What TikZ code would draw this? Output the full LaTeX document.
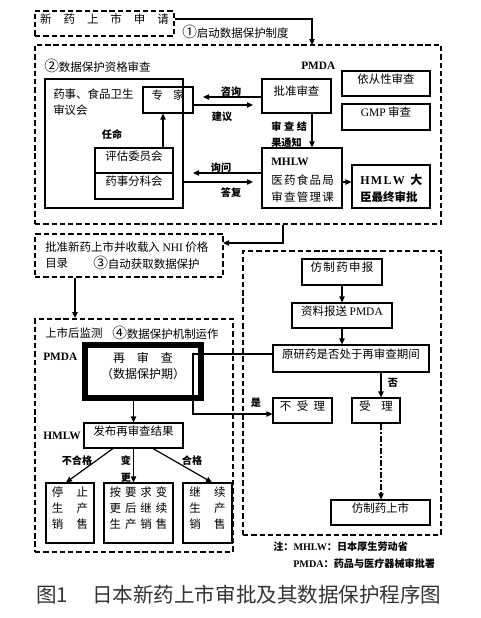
\documentclass[tikz,border=0pt]{standalone}
\usepackage{fontspec}
\setmainfont{Liberation Serif}
\newfontfamily\cjk{Noto Sans CJK SC}
\usetikzlibrary{arrows.meta,fit}
\newcommand\kgap[1]{\hspace*{#1pt}}
\newcommand\circd[1]{{\fontsize{11}{12}\selectfont #1}}
\begin{document}
\begin{tikzpicture}[x=0.75pt,y=-0.75pt,
  box/.style={draw,line width=0.8pt,inner sep=0pt,font=\cjk\fontsize{8.6}{12}\selectfont,align=center},
  dbox/.style={draw,line width=1.4pt,dash pattern=on 4pt off 2.2pt,inner sep=0pt,font=\cjk\fontsize{8.6}{12}\selectfont},
  arr/.style={-{Triangle[length=4.5pt,width=4pt]},line width=0.9pt},
  lbl/.style={inner sep=0pt,font=\cjk\fontsize{8.6}{12}\selectfont,anchor=west},
  sml/.style={inner sep=0pt,font=\cjk\bfseries\fontsize{7.6}{10}\selectfont},
  ttl/.style={inner sep=0pt,font=\rmfamily\bfseries\fontsize{8.5}{10}\selectfont,anchor=west},
  thick box/.style={draw,line width=4.5pt,inner sep=0pt,font=\cjk\fontsize{9}{12}\selectfont,align=center},
]
\useasboundingbox (0,0) rectangle (481,618);

% step 1
\node[dbox,fit={(35,11)(174,36)}] (n1) {新\kgap{9}药\kgap{9}上\kgap{9}市\kgap{9}申\kgap{9}请};
\node[dbox,fit={(35,45)(441,224)}] (b2) {};
\coordinate (c1) at (312,45);
\draw[arr] ([yshift=3.4pt]n1.east) -| (c1);
\node[lbl] (s1) at (182,32) {\circd{①}启动数据保护制度};
\node[lbl] (s2) at (44,66) {\circd{②}数据保护资格审查};
\node[ttl] (pmda1) at (301,66) {PMDA};

% left committee
\node[box,fit={(45,79)(183,208)}] (yw) {};
\node[lbl] (yw1) at (53,94) {药事、食品卫生};
\node[lbl] (yw2) at (53,110) {审议会};
\node[box,fit={(143,87)(193,113)}] (zj) {专\kgap{7.5}家};
\node[box,fit={(95,148)(173,173)}] (pg) {评估委员会};
\node[box,fit={(95,173)(173,199)}] (fk) {药事分科会};
\draw[arr] ([xshift=21.75pt]pg.north) -- ([xshift=21.75pt]pg.north |- zj.south);
\node[sml] (rm) at (112,135) {任命};

% PMDA review
\node[box,fit={(262,79)(331,113)}] (pz) {批准审查};
\coordinate (zx) at (203,97);
\draw[arr] (pz.west |- zx) -- (zx);
\node[sml] (zxl) at (231,92) {咨询};
\coordinate (jy) at (253,105);
\draw[arr] (zj.east |- jy) -- (jy);
\node[sml] (jyl) at (222,117) {建议};
\node[box,fit={(342,71)(430,96)}] (yc) {依从性审查};
\node[box,fit={(342,104)(430,130)}] (gmp) {{\rmfamily GMP} 审查};

% MHLW
\node[box,fit={(262,148)(342,208)}] (mh) {};
\coordinate (tz) at (312,0);
\draw[arr] (pz.south -| tz) -- (mh.north -| tz);
\node[sml,anchor=west] (tz1) at (271,127) {审\kgap{2}查\kgap{2}结};
\node[sml,anchor=west] (tz2) at (271,143) {果通知};
\node[ttl] (mh1) at (271,162) {MHLW};
\node[lbl] (mh2) at (271,180) {医\kgap{1}药\kgap{1}食\kgap{1}品\kgap{1}局};
\node[lbl] (mh3) at (271,197) {审\kgap{1}查\kgap{1}管\kgap{1}理\kgap{1}课};
\coordinate (xw) at (193,173);
\draw[arr] (mh.west |- xw) -- (xw);
\node[sml] (xwl) at (221,168) {询问};
\coordinate (df) at (253,182);
\draw[arr] (yw.east |- df) -- (df);
\node[sml] (dfl) at (231,193) {答复};
\node[box,fit={(352,165)(430,208)}] (hm) {};
\draw[arr] (mh.east |- df) -- (hm.west |- df);
\node[ttl,font=\rmfamily\bfseries\fontsize{9}{10}\selectfont] (hm1) at (360,180) {H\kgap{1}M\kgap{1}L\kgap{1}W\kgap{4}{\cjk 大}};
\node[lbl,font=\cjk\bfseries\fontsize{8.6}{12}\selectfont] (hm2) at (360,197) {臣最终审批};

% step 3
\node[dbox,fit={(35,234)(223,277)}] (n3) {};
\coordinate (c2) at (283,224);
\coordinate (c3) at (223,243);
\draw[arr] (b2.south -| c2) |- (c3);
\node[lbl] (n3a) at (45,247) {批准新药上市并收载入 {\rmfamily NHI} 价格};
\node[lbl] (n3b) at (45,263) {目录};
\node[lbl] (n3c) at (93,263) {\circd{③}自动获取数据保护};

% step 4
\node[dbox,fit={(35,319)(233,552)}] (n4) {};
\coordinate (ax) at (75,0);
\draw[arr] (n3.south -| ax) -- (n4.north -| ax);
\node[lbl] (n4a) at (45,333) {上市后监测};
\node[lbl] (n4b) at (112,333) {\circd{④}数据保护机制运作};
\node[ttl] (pmda2) at (43,357) {PMDA};
\node[thick box,fit={(85,345)(201,398)}] (rs) {再\kgap{9}审\kgap{9}查\\（数据保护期）};
\node[box,fit={(84,423)(183,448)}] (fb) {发布再审查结果};
\node[ttl] (hmlw2) at (43,436) {HMLW};
\draw[arr] (rs.south -| fb.north) -- (fb.north);
\node[box,fit={(46,483)(94,543)}] (r1) {停\kgap{10}止\\生\kgap{10}产\\销\kgap{10}售};
\node[box,fit={(104,483)(173,543)}] (r2) {按\kgap{3}要\kgap{3}求\kgap{3}变\\更\kgap{3}后\kgap{3}继\kgap{3}续\\生\kgap{3}产\kgap{3}销\kgap{3}售};
\node[box,fit={(183,483)(232,543)}] (r3) {继\kgap{10}续\\生\kgap{10}产\\销\kgap{10}售};
\draw[arr] ([xshift=-15.4pt]fb.south) -- ([xshift=-3pt]r1.north);
\draw[arr] (fb.south) -- (fb.south |- r2.north);
\draw[arr] ([xshift=14.6pt]fb.south) -- ([xshift=3.4pt]r3.north);
\node[sml] (l1) at (77,461) {不合格};
\node[sml] (l2) at (126,461) {变};
\node[sml] (l3) at (126,478) {更};
\node[sml] (l4) at (192,461) {合格};

% generic
\node[dbox,fit={(243,251)(441,535)}] (n5) {};
\node[box,fit={(302,259)(382,285)}] (fz) {仿\kgap{1}制\kgap{1}药\kgap{1}申\kgap{1}报};
\node[box,fit={(292,303)(392,328)}] (zl) {资料报送 {\rmfamily PMDA}};
\draw[arr] (fz.south) -- (zl.north);
\node[box,fit={(273,345)(429,372)}] (yy) {原研药是否处于再审查期间};
\draw[arr] (zl.south) -- (zl.south |- yy.north);
\node[box,fit={(273,398)(332,423)}] (bs) {不\kgap{4}受\kgap{4}理};
\node[box,fit={(352,398)(400,423)}] (sl) {受\kgap{8}理};
\coordinate (c4) at (193,354);
\coordinate (c5) at (193,414);
\draw[arr,line width=0.8pt] (yy.west |- c4) -- (c4) -- (c5) -- (bs.west |- c5);
\node[sml] (shi) at (256,403) {是};
\coordinate (c6) at (381,0);
\draw[arr] (yy.south -| c6) -- (sl.north -| c6);
\node[sml] (fou) at (393,383) {否};
\node[box,fit={(331,500)(430,525)}] (fs) {仿制药上市};
\draw[arr,dash pattern=on 5pt off 1.5pt on 1pt off 1.5pt] (sl.south -| c6) -- (fs.north -| c6);

% notes
\node[sml,anchor=west] (note1) at (273,547) {注：{\rmfamily MHLW}：日本厚生劳动省};
\node[sml,anchor=west] (note2) at (293,564) {{\rmfamily PMDA}：药品与医疗器械审批署};

% caption
\node[inner sep=0pt,anchor=west,font=\cjk\fontsize{15.4}{18}\selectfont,text=black!80] (cap1) at (36,595) {图1};
\node[inner sep=0pt,anchor=west,font=\cjk\fontsize{15.4}{18}\selectfont,text=black!80] (cap2) at (92,595) {日本新药上市审批及其数据保护程序图};
\end{tikzpicture}
\end{document}
